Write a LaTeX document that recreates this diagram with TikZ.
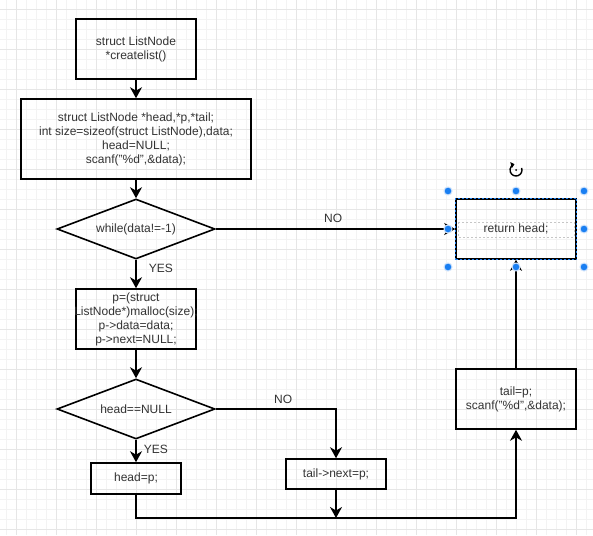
\documentclass[tikz,border=0pt]{standalone}
\usepackage{fontspec}
\setmainfont{Liberation Sans}
\usepackage{tikz}
\usetikzlibrary{arrows.meta,shapes.geometric}
\definecolor{textgray}{HTML}{333333}
\definecolor{handleblue}{HTML}{1A7FF2}
\definecolor{handlering}{HTML}{CFE3FC}
\definecolor{minorgrid}{HTML}{F3F3F3}
\definecolor{majorgrid}{HTML}{E6E6E6}
\newcommand{\drawhandle}[2]{
    \draw[draw=handlering, fill=handleblue, line width=1pt] (#1,#2) circle (4pt);
}

\begin{document}
\begin{tikzpicture}[x=1pt, y=-1pt,
    every node/.style={font=\fontsize{12}{14}\selectfont, text=textgray},
    box/.style={draw=black, line width=1.6pt, align=center, inner sep=2pt},
    decision/.style={diamond, draw=black, line width=1.6pt, aspect=2.6,
        minimum width=158pt, minimum height=60pt, inner sep=0pt},
    flow/.style={line width=1.6pt, -{Stealth[length=11pt, width=12pt, inset=3.5pt]}},
    lbl/.style={inner sep=1pt}]
                % Drawing the grid
                \fill[white] (0,0) rectangle (593,535);
                \useasboundingbox (0,0) rectangle (593,535);
                \foreach \x in {6,16,...,586}{
                    \draw[minorgrid, line width=0.8pt] (\x,0) -- (\x,535);
                }
                \foreach \y in {9,19,...,529}{
                    \draw[minorgrid, line width=0.8pt] (0,\y) -- (593,\y);
                }
                \foreach \x in {16,56,...,576}{
                    \draw[majorgrid, line width=0.8pt] (\x,0) -- (\x,535);
                }
                \foreach \y in {9,49,...,529}{
                    \draw[majorgrid, line width=0.8pt] (0,\y) -- (593,\y);
                }

                % Drawing the steps
                \node[box, minimum width=120pt, minimum height=60pt] (start) at (136,49)
                    {struct ListNode\\*createlist()};
                \node[box, minimum width=230pt, minimum height=80pt] (init) at (136,139)
                    {struct ListNode *head,*p,*tail;\\int size=sizeof(struct ListNode),data;\\head=NULL;\\scanf("\%d",\&data);};
                \node[decision] (loop) at (136,229) {while(data!=-1)};
                \node[box, minimum width=120pt, minimum height=60pt, inner xsep=-6pt] (alloc) at (136,319)
                    {p=(struct\\ListNode*)malloc(size);\\p->data=data;\\p->next=NULL;};
                \node[decision] (check) at (136,409) {head==NULL};
                \node[box, minimum width=90pt, minimum height=31pt] (sethead) at (136,478.5) {head=p;};
                \node[box, minimum width=100pt, minimum height=30pt] (link) at (336,474) {tail->next=p;};
                \node[box, minimum width=120pt, minimum height=60pt] (advance) at (516,399)
                    {tail=p;\\scanf("\%d",\&data);};
                \node[box, minimum width=120pt, minimum height=60pt] (ret) at (516,229) {return head;};
                \coordinate (join) at (336,518);

                % Drawing the arrows
                \draw[flow] (start) -- (init);
                \draw[flow] (init) -- (loop);
                \draw[flow] (loop) -- node[lbl, pos=0.3, anchor=west, xshift=11pt] (yesloop) {YES} (alloc);
                \draw[flow] (alloc) -- (check);
                \draw[flow] (check) -- node[lbl, pos=0.44, anchor=west, xshift=6pt] (yescheck) {YES} (sethead);
                \draw[flow] (check.east) -| node[lbl, pos=0.28, above, yshift=4pt] (nocheck) {NO} (link.north);
                \draw[flow] (loop.east) -- node[lbl, pos=0.49, above, yshift=5pt] (noloop) {NO} (ret.west);
                \draw[flow] (sethead.south) |- (join) -| (advance.south);
                \draw[flow] (link) -- (join);
                \draw[flow] (advance) -- (ret);

                % Drawing the selection
                \draw[handleblue, line width=1pt, dash pattern=on 2pt off 2pt] (ret.south west) rectangle (ret.north east);
                \draw[gray!45, line width=0.6pt, dash pattern=on 2pt off 2pt] (458,222) rectangle (574,237);
                \foreach \hx in {448,516,584}{
                    \drawhandle{\hx}{191}
                    \drawhandle{\hx}{267}
                }
                \drawhandle{448}{229}
                \drawhandle{584}{229}
                \draw[line width=1.4pt, -{Triangle[length=3.5pt, width=6pt]}] (516,170) ++(20:6pt)
                    arc[start angle=20, end angle=-255, radius=6pt];
                \fill (516,170) circle (1pt);
            \end{tikzpicture}
\end{document}
